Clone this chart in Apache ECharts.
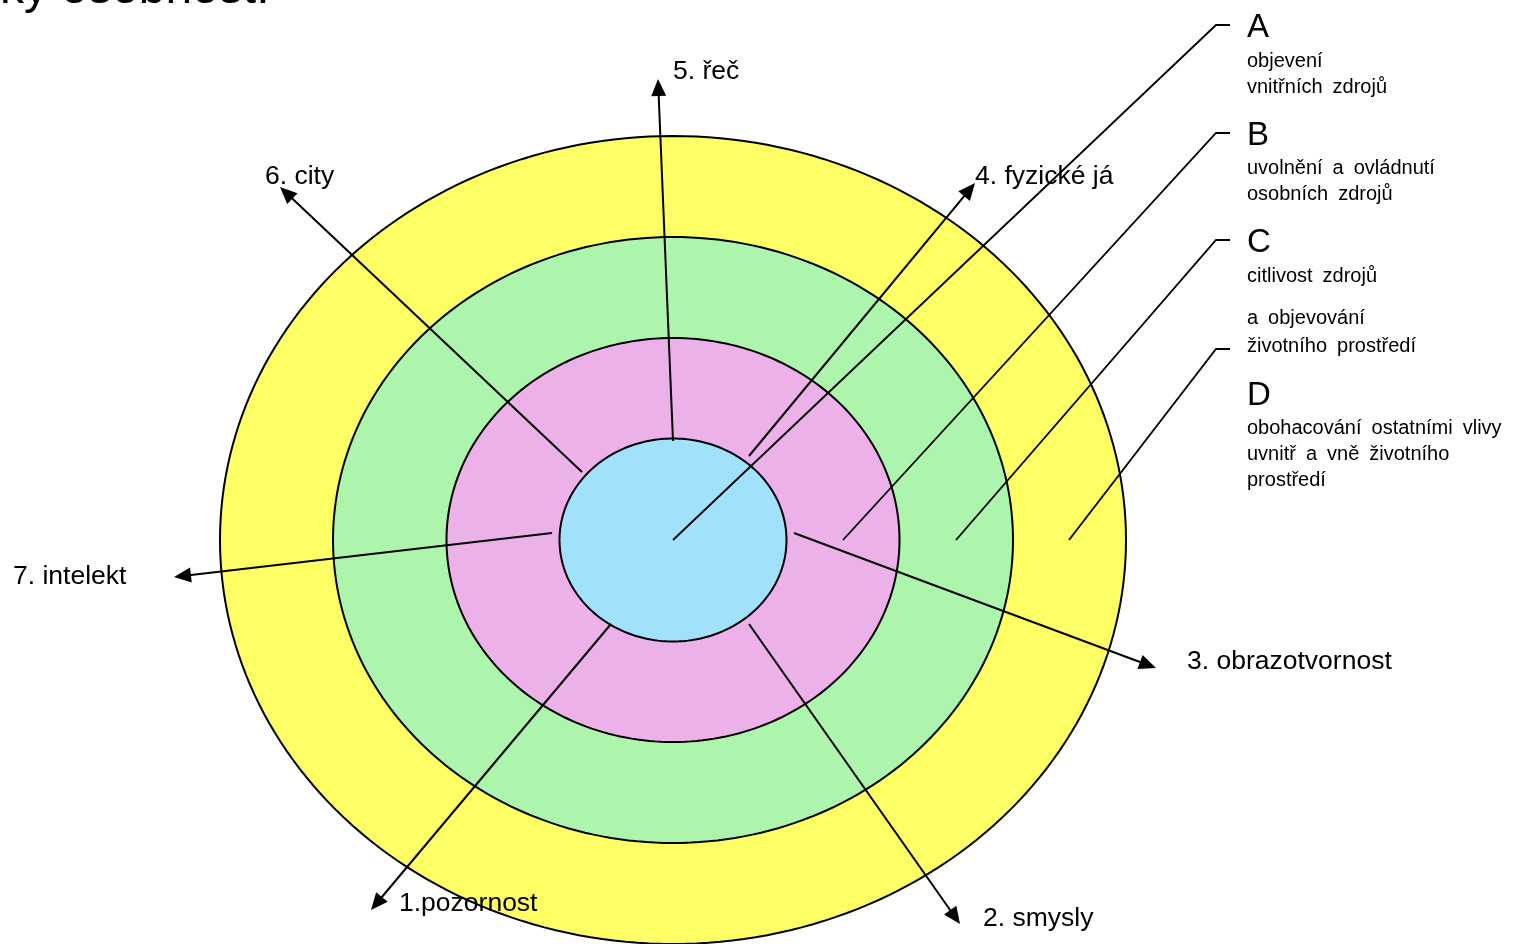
<!DOCTYPE html>
<html>
<head>
<meta charset="utf-8">
<script src="https://cdn.jsdelivr.net/npm/echarts@6/dist/echarts.min.js"></script>
<style>
html,body{margin:0;padding:0;background:#fff;}
#c{width:1513px;height:944px;}
</style>
</head>
<body>
<div id="c"></div>
<script>
// ---- data ----
const titleText = ['ky osobnost.'];
const titlePos = [[0, -10]];

const ringCenter = [673, 540];
const ringRadiusX = [453, 340, 226.5, 113.5];
const ringRadiusY = [404, 303, 202, 101.5];
const ringColors = ['#ffff66', '#adf5ad', '#ebb1e8', '#a2e1fb'];

const arrowLabels = ['5. řeč', '6. city', '4. fyzické já', '7. intelekt', '3. obrazotvornost', '1.pozornost', '2. smysly'];
const arrowStart = [[673, 441], [582, 472], [749, 456], [552, 533], [794, 533], [611, 624], [749, 624]];
const arrowEnd = [[658, 79], [280, 187], [975, 183], [174, 577], [1156, 668], [371, 910], [960, 924]];
const arrowLabelPos = [[673, 72], [265, 177], [975, 177], [13, 577], [1187, 661.5], [399, 904], [983, 918.5]];

const legendLetters = ['A', 'B', 'C', 'D'];
const leaderStart = [[673, 540], [843, 540], [956, 540], [1069, 540]];
const leaderBend = [[1216, 25], [1216, 133], [1216, 240], [1216, 349]];
const leaderEnd = [[1230, 25], [1230, 133], [1230, 240], [1230, 349]];
const letterPos = [[1247, 28], [1247, 136], [1247, 243], [1247, 396]];

const noteLines = ['objevení', 'vnitřních zdrojů', 'uvolnění a ovládnutí', 'osobních zdrojů', 'citlivost zdrojů',
  'a objevování', 'životního prostředí', 'obohacování ostatními vlivy', 'uvnitř a vně životního', 'prostředí'];
const notePos = [[1247, 61], [1247, 87], [1247, 168], [1247, 194], [1247, 276],
  [1247, 318], [1247, 346], [1247, 428], [1247, 454], [1247, 480]];

// ---- chart ----
const FONT = '"Liberation Sans", Arial, sans-serif';
const chart = echarts.init(document.getElementById('c'), null, {renderer: 'canvas'});

function textSeries(texts, pos, size, wideSpaces) {
  return {
    type: 'custom',
    coordinateSystem: 'cartesian2d',
    silent: true,
    clip: false,
    data: pos.map(p => [p[0], p[1]]),
    renderItem: function (params, api) {
      const p = api.coord([api.value(0), api.value(1)]);
      let t = texts[params.dataIndex];
      if (wideSpaces) t = t.replace(/ /g, '\u2002');
      return {
        type: 'text',
        x: p[0], y: p[1],
        style: {
          text: t,
          fill: '#000',
          font: size + 'px ' + FONT,
          align: 'left',
          verticalAlign: 'middle'
        }
      };
    }
  };
}

const option = {
  animation: false,
  backgroundColor: '#fff',
  grid: {left: 0, right: 0, top: 0, bottom: 0, containLabel: false},
  xAxis: {type: 'value', min: 0, max: 1513, show: false},
  yAxis: {type: 'value', min: 0, max: 944, inverse: true, show: false},
  series: [
    {
      type: 'custom',
      coordinateSystem: 'cartesian2d',
      silent: true,
      clip: false,
      data: ringRadiusX.map((rx, i) => [ringCenter[0], ringCenter[1], rx, ringRadiusY[i]]),
      renderItem: function (params, api) {
        const c = api.coord([api.value(0), api.value(1)]);
        const s = api.size([api.value(2), api.value(3)]);
        const rx = Math.abs(s[0]), ry = Math.abs(s[1]);
        const pts = [];
        const n = 240;
        for (let k = 0; k < n; k++) {
          const t = k / n * Math.PI * 2;
          pts.push([c[0] + rx * Math.cos(t), c[1] + ry * Math.sin(t)]);
        }
        return {
          type: 'polygon',
          shape: {points: pts},
          style: {fill: ringColors[params.dataIndex], stroke: '#000', lineWidth: 2}
        };
      }
    },
    {
      type: 'custom',
      coordinateSystem: 'cartesian2d',
      silent: true,
      clip: false,
      data: leaderStart.map((s, i) => [s[0], s[1], leaderBend[i][0], leaderBend[i][1], leaderEnd[i][0], leaderEnd[i][1]]),
      renderItem: function (params, api) {
        const a = api.coord([api.value(0), api.value(1)]);
        const b = api.coord([api.value(2), api.value(3)]);
        const e = api.coord([api.value(4), api.value(5)]);
        return {
          type: 'polyline',
          shape: {points: [a, b, e]},
          style: {stroke: '#000', lineWidth: 1.8, fill: null}
        };
      }
    },
    {
      type: 'custom',
      coordinateSystem: 'cartesian2d',
      silent: true,
      clip: false,
      data: arrowStart.map((s, i) => [s[0], s[1], arrowEnd[i][0], arrowEnd[i][1]]),
      renderItem: function (params, api) {
        const p1 = api.coord([api.value(0), api.value(1)]);
        const p2 = api.coord([api.value(2), api.value(3)]);
        const dx = p2[0] - p1[0], dy = p2[1] - p1[1];
        const len = Math.sqrt(dx * dx + dy * dy);
        const ux = dx / len, uy = dy / len;
        const L = 17, W = 7.5;
        const bx = p2[0] - L * ux, by = p2[1] - L * uy;
        return {
          type: 'group',
          children: [
            {
              type: 'line',
              shape: {x1: p1[0], y1: p1[1], x2: bx + ux * 2, y2: by + uy * 2},
              style: {stroke: '#000', lineWidth: 2}
            },
            {
              type: 'polygon',
              shape: {points: [[p2[0], p2[1]], [bx - uy * W, by + ux * W], [bx + uy * W, by - ux * W]]},
              style: {fill: '#000'}
            }
          ]
        };
      }
    },
    textSeries(titleText, titlePos, 48, false),
    textSeries(arrowLabels, arrowLabelPos, 26.5, false),
    textSeries(legendLetters, letterPos, 33, false),
    textSeries(noteLines, notePos, 20, true)
  ]
};
chart.setOption(option);
</script>
</body>
</html>
